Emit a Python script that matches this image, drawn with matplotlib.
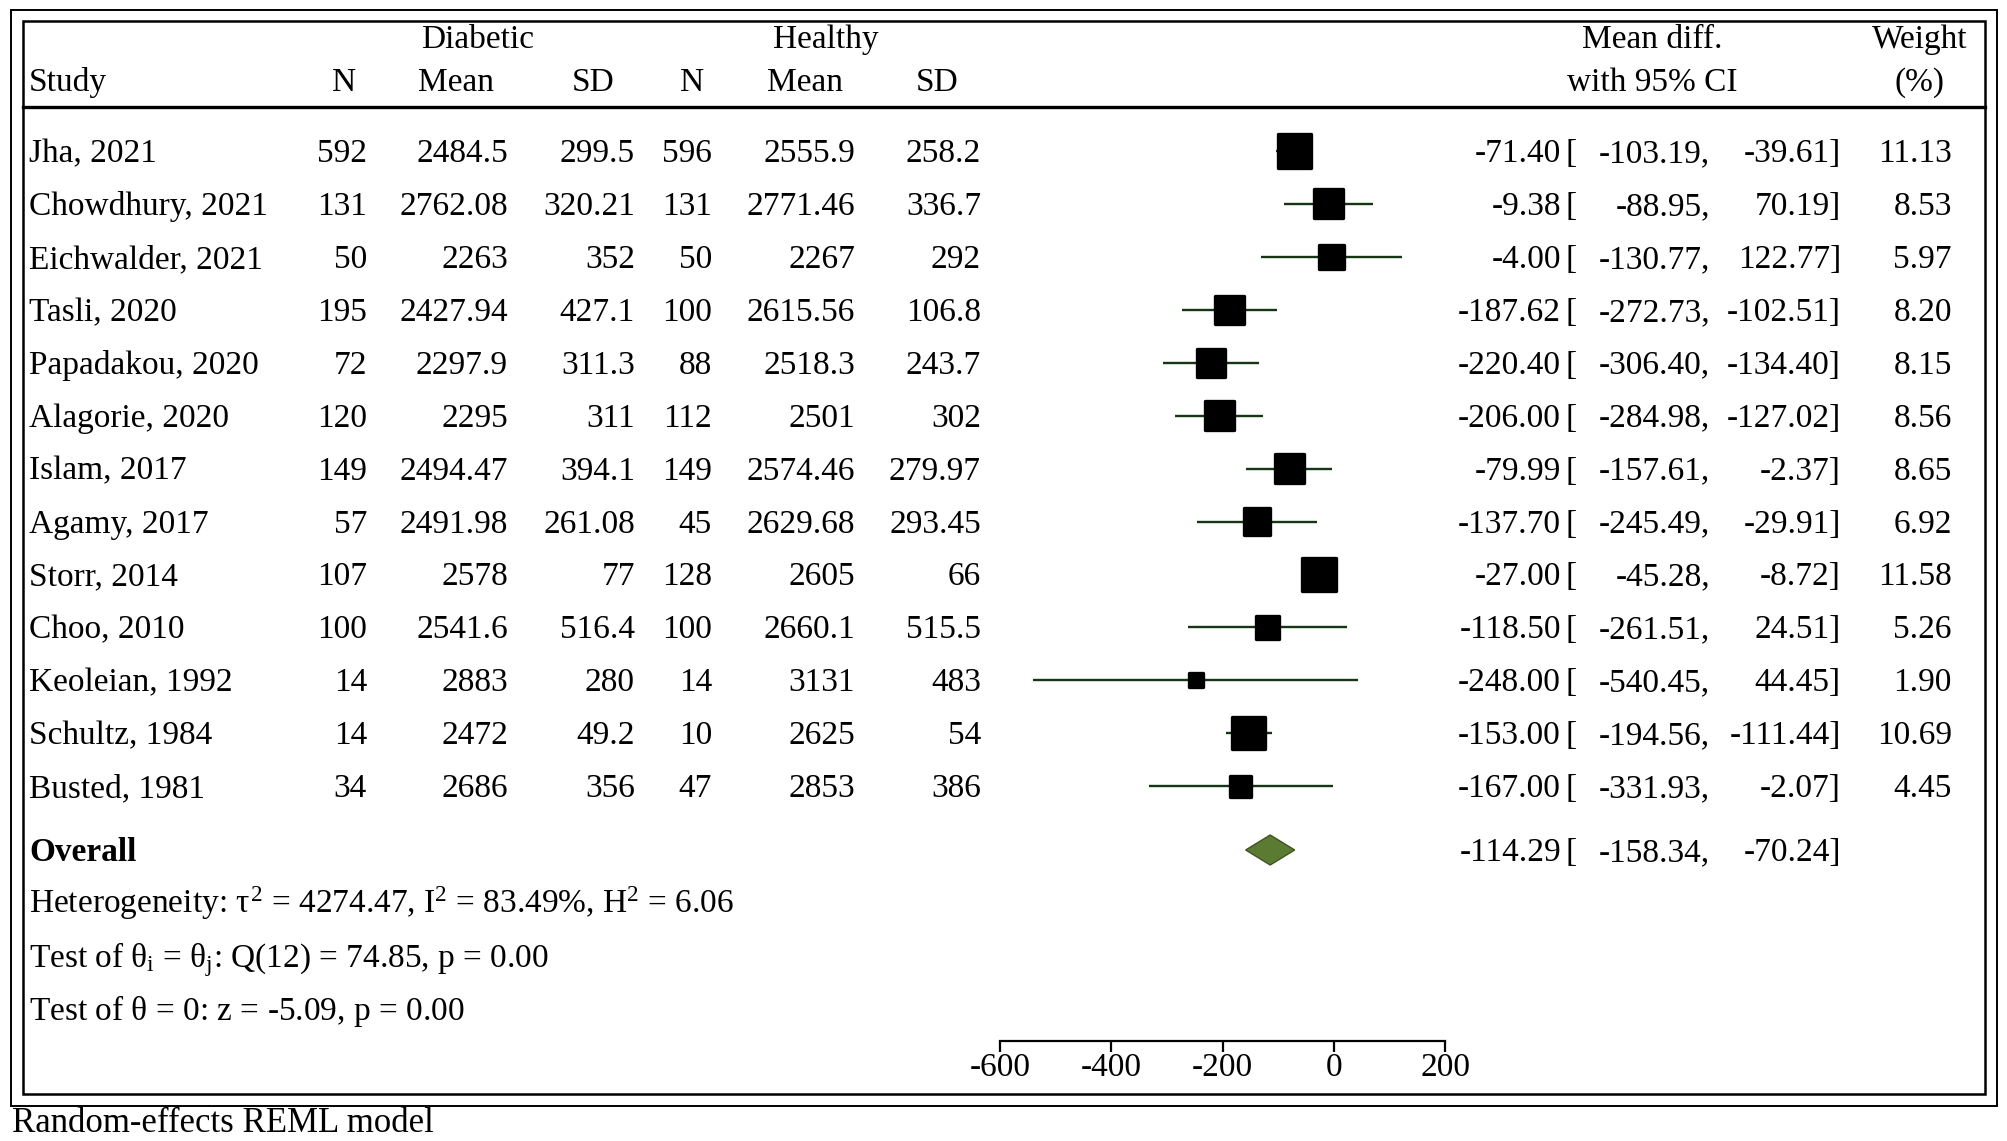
import matplotlib
matplotlib.use("Agg")
import matplotlib.pyplot as plt
from matplotlib.patches import Rectangle, Polygon
import numpy as np

plt.rcParams['font.family'] = ['Liberation Serif', 'DejaVu Serif']
plt.rcParams['mathtext.fontset'] = 'custom'
plt.rcParams['mathtext.rm'] = 'Liberation Serif'
plt.rcParams['mathtext.it'] = 'Liberation Serif'
plt.rcParams['mathtext.bf'] = 'Liberation Serif:bold'

# ---------------- data ----------------
studies = ["Jha, 2021", "Chowdhury, 2021", "Eichwalder, 2021", "Tasli, 2020",
           "Papadakou, 2020", "Alagorie, 2020", "Islam, 2017", "Agamy, 2017",
           "Storr, 2014", "Choo, 2010", "Keoleian, 1992", "Schultz, 1984",
           "Busted, 1981"]
diab_n = [592, 131, 50, 195, 72, 120, 149, 57, 107, 100, 14, 14, 34]
diab_mean = [2484.5, 2762.08, 2263, 2427.94, 2297.9, 2295, 2494.47, 2491.98,
             2578, 2541.6, 2883, 2472, 2686]
diab_sd = [299.5, 320.21, 352, 427.1, 311.3, 311, 394.1, 261.08, 77, 516.4,
           280, 49.2, 356]
heal_n = [596, 131, 50, 100, 88, 112, 149, 45, 128, 100, 14, 10, 47]
heal_mean = [2555.9, 2771.46, 2267, 2615.56, 2518.3, 2501, 2574.46, 2629.68,
             2605, 2660.1, 3131, 2625, 2853]
heal_sd = [258.2, 336.7, 292, 106.8, 243.7, 302, 279.97, 293.45, 66, 515.5,
           483, 54, 386]
md = [-71.40, -9.38, -4.00, -187.62, -220.40, -206.00, -79.99, -137.70,
      -27.00, -118.50, -248.00, -153.00, -167.00]
ci_lo = [-103.19, -88.95, -130.77, -272.73, -306.40, -284.98, -157.61,
         -245.49, -45.28, -261.51, -540.45, -194.56, -331.93]
ci_hi = [-39.61, 70.19, 122.77, -102.51, -134.40, -127.02, -2.37, -29.91,
         -8.72, 24.51, 44.45, -111.44, -2.07]
weights = [11.13, 8.53, 5.97, 8.20, 8.15, 8.56, 8.65, 6.92, 11.58, 5.26,
           1.90, 10.69, 4.45]
overall_md = -114.29
overall_lo = -158.34
overall_hi = -70.24
het_text = r"Heterogeneity: $\tau^2$ = 4274.47, I$^2$ = 83.49%, H$^2$ = 6.06"
q_text = r"Test of $\theta_\mathrm{i}$ = $\theta_\mathrm{j}$: Q(12) = 74.85, p = 0.00"
z_text = r"Test of $\theta$ = 0: z = -5.09, p = 0.00"
model_text = "Random-effects REML model"
xticks = [-600, -400, -200, 0, 200]

# ---------------- layout (pixel units of the 2008x1141 canvas) ----------------
W, H = 2008, 1141
FS = 24
fig = plt.figure(figsize=(W / 100, H / 100), dpi=100)
bg = fig.add_axes([0, 0, 1, 1])
bg.set_xlim(0, W)
bg.set_ylim(H, 0)
bg.axis('off')

# frames
bg.add_patch(Rectangle((11, 10), 1986, 1096, fill=False, lw=1.4, ec='black'))
bg.add_patch(Rectangle((23, 21), 1962, 1073, fill=False, lw=1.8, ec='black'))
bg.plot([23, 1985], [107, 107], color='black', lw=2.4)

row0, step = 151, 52.93
n = len(studies)
row_y = [row0 + step * i for i in range(n)]
cap = 11

# headers
bg.text(478, 48, "Diabetic", ha='center', va='baseline', fontsize=FS)
bg.text(826, 48, "Healthy", ha='center', va='baseline', fontsize=FS)
bg.text(1652, 48, "Mean diff.", ha='center', va='baseline', fontsize=FS)
bg.text(1920, 48, "Weight", ha='center', va='baseline', fontsize=FS)
bg.text(29, 91, "Study", ha='left', va='baseline', fontsize=FS)
for xc, lab in zip([344, 456, 593, 692, 805, 937],
                   ["N", "Mean", "SD", "N", "Mean", "SD"]):
    bg.text(xc, 91, lab, ha='center', va='baseline', fontsize=FS)
bg.text(1652, 91, "with 95% CI", ha='center', va='baseline', fontsize=FS)
bg.text(1920, 91, "(%)", ha='center', va='baseline', fontsize=FS)

cols = [(367, diab_n), (508, diab_mean), (635, diab_sd),
        (712, heal_n), (855, heal_mean), (981, heal_sd)]
for i in range(n):
    yb = row_y[i] + cap
    bg.text(29, yb, studies[i], ha='left', va='baseline', fontsize=FS)
    for xr, arr in cols:
        bg.text(xr, yb, str(arr[i]), ha='right', va='baseline', fontsize=FS)
    bg.text(1561, yb, f"{md[i]:.2f}", ha='right', va='baseline', fontsize=FS)
    bg.text(1566, yb, "[", ha='left', va='baseline', fontsize=FS)
    bg.text(1710, yb, f"{ci_lo[i]:.2f},", ha='right', va='baseline', fontsize=FS)
    bg.text(1841, yb, f"{ci_hi[i]:.2f}]", ha='right', va='baseline', fontsize=FS)
    bg.text(1952, yb, f"{weights[i]:.2f}", ha='right', va='baseline', fontsize=FS)

ov_y = 850
bg.text(29, ov_y + cap, "Overall", ha='left', va='baseline', fontsize=FS,
        fontweight='bold')
bg.text(1561, ov_y + cap, f"{overall_md:.2f}", ha='right', va='baseline', fontsize=FS)
bg.text(1566, ov_y + cap, "[", ha='left', va='baseline', fontsize=FS)
bg.text(1710, ov_y + cap, f"{overall_lo:.2f},", ha='right', va='baseline', fontsize=FS)
bg.text(1841, ov_y + cap, f"{overall_hi:.2f}]", ha='right', va='baseline', fontsize=FS)

bg.text(29, 913, het_text, ha='left', va='baseline', fontsize=FS)
bg.text(29, 967, q_text, ha='left', va='baseline', fontsize=FS)
bg.text(29, 1020, z_text, ha='left', va='baseline', fontsize=FS)
bg.text(12, 1132, model_text, ha='left', va='baseline', fontsize=FS + 1)

# ---------------- forest axes ----------------
x0, x1 = 1000, 1445
axis_y = 1041
ax = fig.add_axes([x0 / W, (H - axis_y) / H, (x1 - x0) / W, axis_y / H])
ax.set_xlim(xticks[0], xticks[-1])
ax.set_ylim(axis_y, 0)
ax.patch.set_alpha(0)
for s in ['left', 'right', 'top']:
    ax.spines[s].set_visible(False)
ax.spines['bottom'].set_linewidth(1.6)
ax.set_yticks([])
ax.set_xticks(xticks)
ax.set_xticklabels([str(t) for t in xticks])
ax.tick_params(axis='x', direction='out', length=8, width=1.6, pad=0.5,
               labelsize=FS)

ci_color = '#163512'
ax.hlines(row_y, ci_lo, ci_hi, color=ci_color, lw=1.7, zorder=2)
ax.scatter(md, row_y, s=[50.8 * w for w in weights], marker='s',
           color='black', edgecolors='black', linewidths=2.4, zorder=3)

dh = 15
diamond = Polygon([[overall_lo, ov_y], [overall_md, ov_y - dh],
                   [overall_hi, ov_y], [overall_md, ov_y + dh]],
                  closed=True, facecolor='#5b7b32', edgecolor='#3c5621',
                  lw=1.0, zorder=3)
ax.add_patch(diamond)

fig.savefig("out.png", dpi=100)
